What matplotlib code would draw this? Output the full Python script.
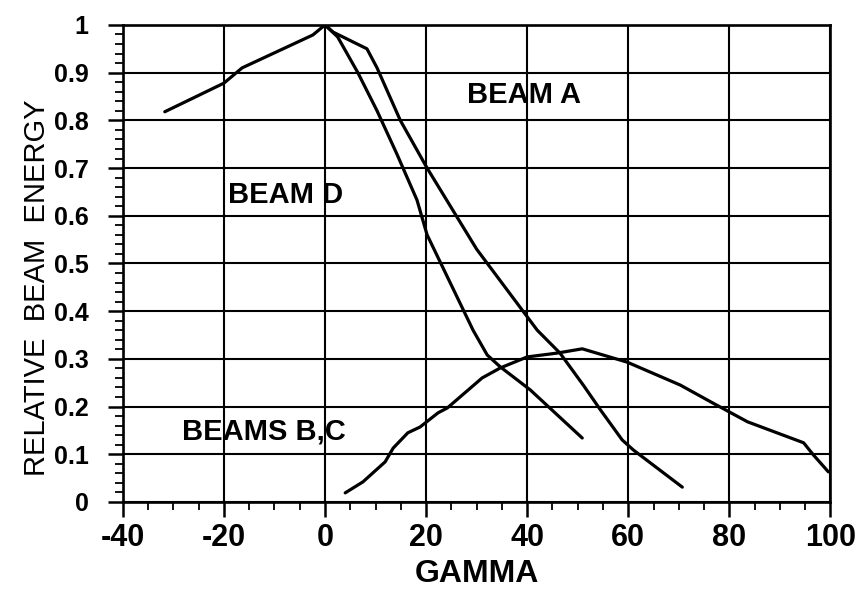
import numpy as np
import matplotlib
matplotlib.use("Agg")
import matplotlib.pyplot as plt
from matplotlib.ticker import MultipleLocator

plt.rcParams['font.family'] = ['Liberation Sans', 'DejaVu Sans']
plt.rcParams['axes.unicode_minus'] = False

## curve data
beam_d_x = [-31.7, -20.0, -16.4, -2.4, 0.0, 2.5, 6.5, 10.3, 14.2, 18.2, 20.2, 29.3, 32.1, 34.7, 40.6, 50.9]
beam_d_y = [0.818, 0.878, 0.910, 0.979, 1.0, 0.975, 0.90, 0.82, 0.73, 0.633, 0.56, 0.36, 0.308, 0.283, 0.235, 0.134]

beam_a_x = [0.0, 1.6, 8.3, 10.3, 14.9, 20.2, 30.0, 42.0, 46.5, 51.1, 54.5, 58.8, 61.0, 70.7]
beam_a_y = [1.0, 0.985, 0.95, 0.91, 0.80, 0.70, 0.53, 0.36, 0.312, 0.245, 0.193, 0.13, 0.109, 0.031]

beam_bc_x = [4.0, 7.5, 11.9, 13.5, 16.4, 18.8, 22.4, 24.2, 31.1, 34.7, 40.0, 45.9, 50.9, 59.8, 70.3, 76.8, 83.6, 94.7, 96.6, 99.6]
beam_bc_y = [0.019, 0.042, 0.084, 0.113, 0.145, 0.157, 0.187, 0.197, 0.26, 0.281, 0.304, 0.312, 0.321, 0.293, 0.245, 0.207, 0.168, 0.124, 0.099, 0.063]

labels = ["BEAM A", "BEAM D", "BEAMS B,C"]
label_pos = [(28.1, 0.853), (-19.2, 0.644), (-28.3, 0.147)]

fig = plt.figure(figsize=(8.65, 5.94), dpi=100)
ax = fig.add_axes([0.142, 0.155, 0.818, 0.803])

for xs, ys in [(beam_d_x, beam_d_y), (beam_a_x, beam_a_y), (beam_bc_x, beam_bc_y)]:
    ax.plot(xs, ys, color='k', lw=2.3, solid_joinstyle='round', solid_capstyle='round', zorder=3)

for txt, (tx, ty) in zip(labels, label_pos):
    ax.text(tx, ty, txt, fontsize=21, fontweight='bold', ha='left', va='center', zorder=4)

ax.set_xlim(-40, 100)
ax.set_ylim(0, 1)
ax.xaxis.set_major_locator(MultipleLocator(20))
ax.xaxis.set_minor_locator(MultipleLocator(5))
ax.yaxis.set_minor_locator(MultipleLocator(0.02))
ax.set_yticks(np.arange(0, 1.01, 0.1))
ax.set_yticklabels(['%g' % round(v, 1) for v in np.arange(0, 1.01, 0.1)])

ax.grid(True, which='major', color='k', lw=1.5)
for s in ax.spines.values():
    s.set_linewidth(1.9)

ax.tick_params(which='major', direction='out', length=10.5, width=1.8)
ax.tick_params(which='minor', direction='out', length=5.8, width=1.3)
ax.tick_params(axis='x', which='major', labelsize=22, pad=5)
ax.tick_params(axis='y', which='major', labelsize=18, pad=14)
for lab in ax.get_xticklabels() + ax.get_yticklabels():
    lab.set_fontweight('bold')

ax.set_xlabel('GAMMA', fontsize=23, fontweight='bold', labelpad=4)
ax.set_ylabel('RELATIVE  BEAM  ENERGY', fontsize=21)
ax.yaxis.set_label_coords(-0.101, 0.45)

fig.savefig('out.png', dpi=100)
